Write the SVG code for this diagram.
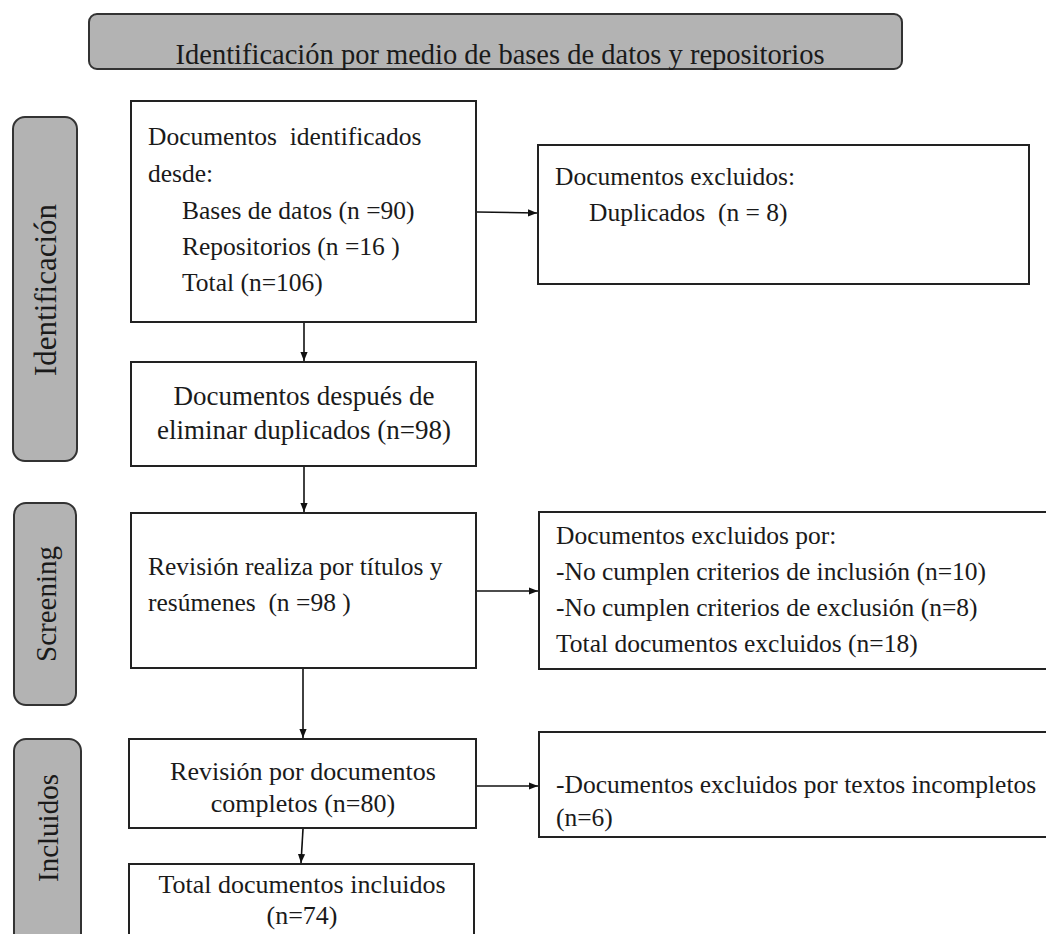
<svg xmlns="http://www.w3.org/2000/svg" width="1046" height="934" viewBox="0 0 1046 934">
<defs>
<style>
.box{fill:#ffffff;stroke:#222;stroke-width:2}
.phase{fill:#b3b3b3;stroke:#333;stroke-width:2}
.t{font-family:"Liberation Serif","Times New Roman","DejaVu Serif",serif;font-size:25.5px;fill:#1a1a1a}
.c{text-anchor:middle}
.lbl{font-family:"Liberation Serif","Times New Roman","DejaVu Serif",serif;font-size:29px;fill:#1a1a1a;text-anchor:middle}
.edge{stroke:#111;stroke-width:1.6;fill:none;marker-end:url(#ah)}
</style>
<marker id="ah" viewBox="0 0 10 10" refX="10" refY="5" markerWidth="9" markerHeight="9" markerUnits="userSpaceOnUse" orient="auto">
<path d="M0,1 L10,5 L0,9 Z" fill="#111"/>
</marker>
</defs>

<g id="header">
<rect class="phase" x="89" y="14" width="813" height="55" rx="8"/>
<text class="t c" x="500" y="64" style="font-size:28.5px">Identificación por medio de bases de datos y repositorios</text>
</g>

<g id="phase-identificacion">
<rect class="phase" x="13" y="117" width="64" height="344" rx="12"/>
<text class="lbl" transform="translate(56,290) rotate(-90)" style="font-size:31px">Identificación</text>
</g>
<g id="phase-screening">
<rect class="phase" x="14" y="503" width="62" height="202" rx="12"/>
<text class="lbl" transform="translate(56,604) rotate(-90)">Screening</text>
</g>
<g id="phase-incluidos">
<rect class="phase" x="14" y="739" width="67" height="215" rx="12"/>
<text class="lbl" transform="translate(58,828) rotate(-90)">Incluidos</text>
</g>

<g id="n-identificados">
<rect class="box" x="131" y="101" width="345" height="221"/>
<text class="t" x="148" y="145" xml:space="preserve">Documentos  identificados</text>
<text class="t" x="148" y="182">desde:</text>
<text class="t" x="182" y="219">Bases de datos (n =90)</text>
<text class="t" x="182" y="255">Repositorios (n =16 )</text>
<text class="t" x="182" y="291">Total (n=106)</text>
</g>

<g id="n-excluidos-dup">
<rect class="box" x="538" y="145" width="491" height="139"/>
<text class="t" x="555" y="185">Documentos excluidos:</text>
<text class="t" x="589" y="221" xml:space="preserve">Duplicados  (n = 8)</text>
</g>

<g id="n-sin-duplicados">
<rect class="box" x="131" y="362" width="345" height="104"/>
<text class="t c" x="304" y="405" style="font-size:27px">Documentos después de</text>
<text class="t c" x="304" y="439" style="font-size:27px">eliminar duplicados (n=98)</text>
</g>

<g id="n-revision-titulos">
<rect class="box" x="131" y="513" width="345" height="155"/>
<text class="t" x="148" y="575">Revisión realiza por títulos y</text>
<text class="t" x="148" y="611" xml:space="preserve">resúmenes  (n =98 )</text>
</g>

<g id="n-excluidos-criterios">
<rect class="box" x="539" y="512" width="520" height="157"/>
<text class="t" x="556" y="544">Documentos excluidos por:</text>
<text class="t" x="556" y="580">-No cumplen criterios de inclusión (n=10)</text>
<text class="t" x="556" y="616">-No cumplen criterios de exclusión (n=8)</text>
<text class="t" x="556" y="652">Total documentos excluidos (n=18)</text>
</g>

<g id="n-revision-completos">
<rect class="box" x="129" y="739" width="347" height="89"/>
<text class="t c" x="303" y="780" style="font-size:26px">Revisión por documentos</text>
<text class="t c" x="303" y="812" style="font-size:26px">completos (n=80)</text>
</g>

<g id="n-excluidos-incompletos">
<rect class="box" x="539" y="732" width="520" height="105"/>
<text class="t" x="556" y="793">-Documentos excluidos por textos incompletos</text>
<text class="t" x="556" y="826">(n=6)</text>
</g>

<g id="n-incluidos">
<rect class="box" x="129" y="864" width="345" height="90"/>
<text class="t c" x="302" y="893" style="font-size:26px">Total documentos incluidos</text>
<text class="t c" x="302" y="924" style="font-size:26px">(n=74)</text>
</g>

<g id="connectors">
<line class="edge" x1="477" y1="212" x2="537" y2="213"/>
<line class="edge" x1="304" y1="323" x2="304" y2="361"/>
<line class="edge" x1="304" y1="467" x2="304" y2="512"/>
<line class="edge" x1="477" y1="591" x2="538" y2="591"/>
<line class="edge" x1="303" y1="669" x2="303" y2="738"/>
<line class="edge" x1="477" y1="786" x2="538" y2="786"/>
<line class="edge" x1="303" y1="829" x2="301" y2="863"/>
</g>
</svg>
